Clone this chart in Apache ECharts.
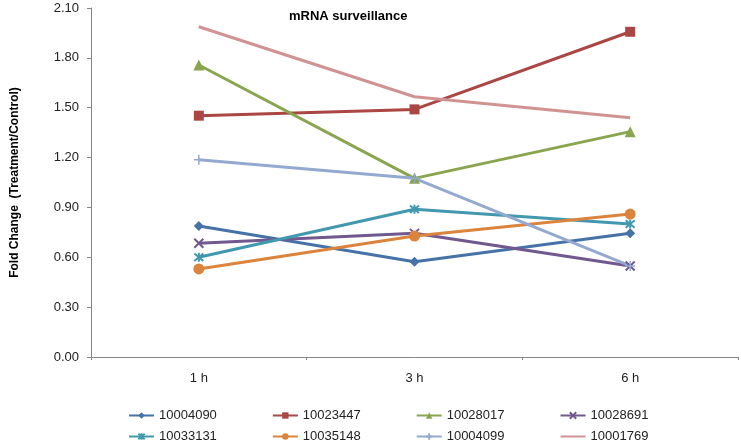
<!DOCTYPE html>
<html>
<head>
<meta charset="utf-8">
<script src="https://cdn.jsdelivr.net/npm/echarts@6/dist/echarts.min.js"></script>
<style>html,body{margin:0;padding:0;background:#fff}#c{width:741px;height:441px}</style>
</head>
<body>
<div id="c"></div>
<script>
const categories = ['1 h', '3 h', '6 h'];
const seriesNames = ['10004090', '10023447', '10028017', '10028691', '10033131', '10035148', '10004099', '10001769'];
const s10004090 = [0.788, 0.573, 0.744];
const s10023447 = [1.452, 1.490, 1.957];
const s10028017 = [1.757, 1.075, 1.356];
const s10028691 = [0.684, 0.744, 0.548];
const s10033131 = [0.600, 0.889, 0.800];
const s10035148 = [0.530, 0.728, 0.860];
const s10004099 = [1.187, 1.075, 0.548];
const s10001769 = [1.987, 1.566, 1.440];
const yTicks = [0, 0.3, 0.6, 0.9, 1.2, 1.5, 1.8, 2.1];

const values = [s10004090, s10023447, s10028017, s10028691, s10033131, s10035148, s10004099, s10001769];
const colors = ['#4572A7', '#AA4643', '#89A54E', '#71588F', '#4198AF', '#DB843D', '#93A9CF', '#D19392'];
const symbols = [
  {symbol: 'diamond', size: 10, border: 0},
  {symbol: 'rect', size: 10, border: 0},
  {symbol: 'triangle', size: 11, border: 0},
  {symbol: 'path://M0,0L10,10M10,0L0,10', size: 9, border: 2},
  {symbol: 'path://M0,0L10,10M10,0L0,10M5,-1L5,11', size: 9, border: 2},
  {symbol: 'circle', size: 11, border: 0},
  {symbol: 'path://M5,0L5,10M0,5L10,5', size: 10, border: 1.5},
  {symbol: 'none', size: 0, border: 0}
];

const series = seriesNames.map((n, i) => ({
  name: n,
  type: 'line',
  data: values[i],
  symbol: symbols[i].symbol,
  symbolSize: symbols[i].size,
  showSymbol: symbols[i].symbol !== 'none',
  lineStyle: {width: 3, color: colors[i]},
  itemStyle: {color: colors[i], borderColor: colors[i], borderWidth: symbols[i].border},
  emphasis: {disabled: true},
  animation: false
}));

const legendData = seriesNames.map((n, i) => symbols[i].symbol === 'none'
  ? {name: n, itemStyle: {opacity: 0}} : {name: n});

const legendCommon = {
  left: 123,
  itemWidth: 25,
  itemHeight: 8,
  itemGap: 55,
  itemTextGap: 0,
  textStyle: {fontFamily: 'Liberation Sans, Arial', fontSize: 13, color: '#222'},
  selectedMode: false
};

const chart = echarts.init(document.getElementById('c'), null, {renderer: 'canvas'});
chart.setOption({
  backgroundColor: '#fff',
  color: colors,
  title: {
    text: 'mRNA surveillance',
    left: 284, top: 5,
    textStyle: {fontFamily: 'Liberation Sans, Arial', fontSize: 13, fontWeight: 'bold', color: '#000'}
  },
  legend: [
    Object.assign({}, legendCommon, {top: 404, data: legendData.slice(0, 4)}),
    Object.assign({}, legendCommon, {top: 425, data: legendData.slice(4, 8)})
  ],
  grid: {left: 91, right: 3, top: 8, bottom: 84, containLabel: false},
  xAxis: {
    type: 'category',
    data: categories,
    boundaryGap: true,
    axisLine: {lineStyle: {color: '#868686', width: 1}},
    axisTick: {show: true, length: 3, lineStyle: {color: '#868686'}},
    axisLabel: {margin: 15, fontFamily: 'Liberation Sans, Arial', fontSize: 13, color: '#222'},
    splitLine: {show: false}
  },
  yAxis: {
    type: 'value',
    min: yTicks[0],
    max: yTicks[yTicks.length - 1],
    interval: 0.3,
    name: 'Fold Change  (Treatment/Control)',
    nameLocation: 'middle',
    nameGap: 70,
    nameTextStyle: {fontFamily: 'Liberation Sans, Arial', fontSize: 12, fontWeight: 'bold', color: '#000'},
    axisLine: {show: true, lineStyle: {color: '#868686', width: 1}},
    axisTick: {show: true, length: 4, lineStyle: {color: '#868686'}},
    axisLabel: {margin: 12, fontFamily: 'Liberation Sans, Arial', fontSize: 13, color: '#222',
      formatter: v => v.toFixed(2)},
    splitLine: {show: false}
  },
  series: series
});
</script>
</body>
</html>
